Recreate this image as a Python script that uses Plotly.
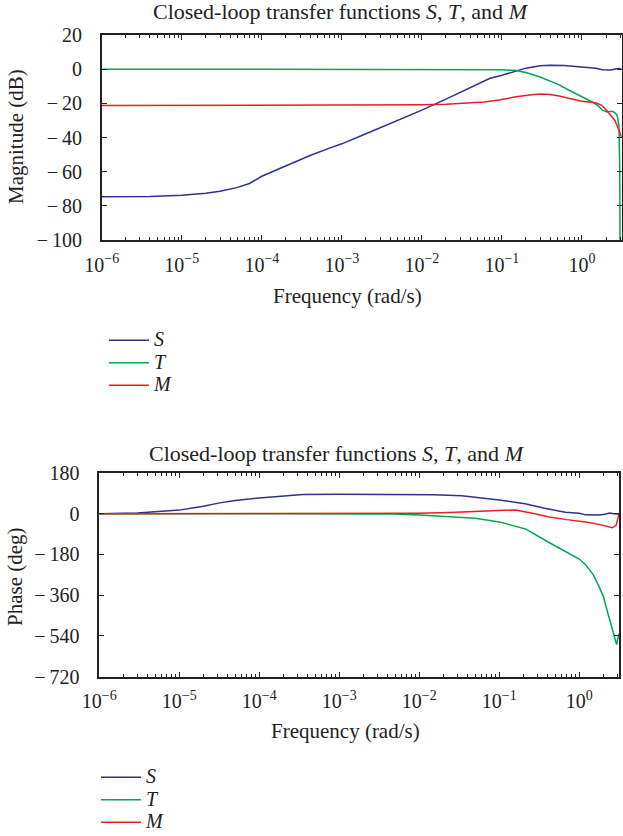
import math
import plotly.graph_objects as go

# ---- magnitude data (dB) ----
f_S_mag = [1e-6, 2e-6, 4e-6, 7e-6, 1e-5, 2e-5, 3e-5, 5e-5, 7e-5, 1e-4, 2e-4, 4e-4, 7e-4,
           1e-3, 2e-3, 5e-3, 1e-2, 2e-2, 3.5e-2, 5e-2, 0.07, 0.1, 0.15, 0.2, 0.3, 0.4, 0.6,
           1.0, 1.5, 1.8, 2.3, 2.7, 2.95, 3.14]
S_mag = [-74.7, -74.7, -74.6, -74.1, -73.8, -72.6, -71.4, -69.2, -66.9, -62.7, -56.5, -50.5, -46.2,
         -43.7, -37.8, -30.0, -24.0, -17.5, -12.0, -8.8, -5.5, -3.6, -1.0, 0.6, 2.0, 2.3, 2.2,
         1.3, 0.5, -0.4, -0.5, 0.3, 0.4, -0.2]

f_T_mag = [1e-6, 1e-3, 0.03, 0.07, 0.1, 0.15, 0.2, 0.3, 0.4, 0.52, 0.7, 1.0, 1.35, 1.6,
           1.8, 2.07, 2.39, 2.6, 2.75, 2.9, 2.97, 3.0, 3.14]
T_mag = [0, 0, 0, 0, -0.3, -0.8, -2.0, -4.6, -6.8, -9.2, -12.5, -16.1, -19.2, -21.5,
         -24.0, -25.0, -24.7, -25.5, -27.0, -33.0, -60.0, -110.0, -160.0]

f_M_mag = [1e-6, 1e-3, 5e-3, 1e-2, 2e-2, 3.5e-2, 6e-2, 9.2e-2, 0.15, 0.25, 0.32, 0.4, 0.52,
           0.7, 1.0, 1.48, 1.75, 2.03, 2.2, 2.39, 2.58, 2.93, 3.14]
M_mag = [-21.2, -21.1, -21.0, -20.9, -20.6, -20.0, -19.2, -18.0, -16.2, -14.9, -14.6, -14.8, -15.7,
         -17.2, -18.8, -19.7, -21.0, -24.0, -26.0, -28.0, -30.0, -36.0, -40.0]

# ---- phase data (deg) ----
f_S_ph = [1e-6, 3e-6, 1e-5, 2e-5, 3.2e-5, 5e-5, 1e-4, 2e-4, 3.5e-4, 1e-3, 5e-3, 1.5e-2,
          3.4e-2, 0.1, 0.21, 0.37, 0.67, 1.0, 1.2, 1.76, 2.1, 2.4, 2.7, 3.14]
S_ph = [0, 3, 16, 33, 48, 58, 70, 79, 85, 86, 86, 84,
        80, 61, 44, 24, 7, 2, -5, -6, -2, 3, 0, -1]

f_T_ph = [1e-6, 5e-3, 1e-2, 2.4e-2, 0.05, 0.1, 0.215, 0.42, 0.7, 1.0, 1.2, 1.5, 1.76,
          2.0, 2.24, 2.5, 2.75, 2.93, 3.14]
T_ph = [0, -1, -6, -12, -20, -36, -68, -127, -168, -200, -225, -270, -320,
        -365, -430, -490, -545, -578, -530]

f_M_ph = [1e-6, 5e-3, 1e-2, 2.4e-2, 0.05, 0.1, 0.16, 0.26, 0.42, 0.7, 1.0, 1.2, 1.76,
          2.24, 2.6, 2.9, 3.05, 3.14]
M_ph = [0, 0, 2, 5, 10, 17, 17, 2, -14, -26, -33, -36, -47,
        -58, -62, -50, -25, 0]

series_names = ["S", "T", "M"]
series_colors = ["#2E3192", "#00A651", "#ED1C24"]

title_text = "Closed-loop transfer functions <i>S</i>, <i>T</i>, and <i>M</i>"
xlabel = "Frequency (rad/s)"
mag_ticks = [20, 0, -20, -40, -60, -80, -100]
phase_ticks = [180, 0, -180, -360, -540, -720]
decades = [-6, -5, -4, -3, -2, -1, 0]

W, H = 623, 836
FONT = "Liberation Serif"
AX = "#222222"
TXT = "#222222"

fig = go.Figure()

mag_sets = [(f_S_mag, S_mag), (f_T_mag, T_mag), (f_M_mag, M_mag)]
ph_sets = [(f_S_ph, S_ph), (f_T_ph, T_ph), (f_M_ph, M_ph)]


def legend_label(n):
    # larger glyphs than the legend's own font so the rows stay tight
    return "<span style='font-size:20px'><i>%s</i></span>" % n


for (fx, fy), name, col in zip(mag_sets, series_names, series_colors):
    fig.add_trace(go.Scatter(x=fx, y=fy, mode="lines", name=legend_label(name),
                             line=dict(color=col, width=1.5),
                             xaxis="x", yaxis="y", legend="legend"))
for (fx, fy), name, col in zip(ph_sets, series_names, series_colors):
    fig.add_trace(go.Scatter(x=fx, y=fy, mode="lines", name=legend_label(name),
                             line=dict(color=col, width=1.5),
                             xaxis="x2", yaxis="y2", legend="legend2"))

xmax = math.log10(math.pi)
minor_vals = [m * 10 ** d for d in range(-6, 1) for m in range(2, 10) if m * 10 ** d <= math.pi]


def neg(v):
    return str(v).replace("-", "−\u2009")


def xaxis_cfg(domain, anchor):
    return dict(
        type="log", range=[-6, xmax], domain=domain, anchor=anchor, automargin=False,
        tickvals=[10 ** d for d in decades],
        ticktext=["10<sup>%s</sup>" % (str(d).replace("-", "−")) for d in decades],
        ticks="inside", ticklen=5, tickwidth=1, tickcolor=AX,
        minor=dict(tickvals=minor_vals, ticks="inside", ticklen=3, tickwidth=1, tickcolor=AX),
        showline=True, linecolor=AX, linewidth=1.5, mirror="ticks",
        showgrid=False, zeroline=False,
        tickfont=dict(family=FONT, size=20, color=TXT),
        ticklabelstandoff=6,
    )


def yaxis_cfg(domain, anchor, ticks, rng):
    return dict(
        range=rng, domain=domain, anchor=anchor, automargin=False,
        tickvals=ticks, ticktext=[neg(t) for t in ticks],
        ticks="inside", ticklen=5, tickwidth=1, tickcolor=AX,
        showline=True, linecolor=AX, linewidth=1.5, mirror="ticks",
        showgrid=False, zeroline=False,
        tickfont=dict(family=FONT, size=20, color=TXT),
        ticklabelstandoff=14,
    )


top_x = [101.8 / W, 621.7 / W]
bot_x = [99.3 / W, 619.0 / W]
top_y = [1 - 240 / H, 1 - 35 / H]
bot_y = [1 - 676.7 / H, 1 - 473 / H]

legend_common = dict(xanchor="left", yanchor="top",
                     font=dict(family=FONT, size=15, color=TXT),
                     bgcolor="rgba(0,0,0,0)", tracegroupgap=0, itemwidth=40)

fig.update_layout(
    width=W, height=H,
    margin=dict(l=0, r=0, t=0, b=0, autoexpand=False),
    paper_bgcolor="white", plot_bgcolor="white",
    font=dict(family=FONT, color=TXT),
    xaxis=xaxis_cfg(top_x, "y"),
    yaxis=yaxis_cfg(top_y, "x", mag_ticks, [-100, 20]),
    xaxis2=xaxis_cfg(bot_x, "y2"),
    yaxis2=yaxis_cfg(bot_y, "x2", phase_ticks, [-720, 180]),
    legend=dict(x=104 / W, y=1 - 324 / H, **legend_common),
    legend2=dict(x=96 / W, y=1 - 761 / H, **legend_common),
    showlegend=True,
)

annots = [
    dict(text=title_text, x=341 / W, y=1 - 11 / H, size=22),
    dict(text=title_text, x=337 / W, y=1 - 453 / H, size=22),
    dict(text=xlabel, x=347 / W, y=1 - 296 / H, size=21),
    dict(text=xlabel, x=345 / W, y=1 - 731 / H, size=21),
    dict(text="Magnitude (dB)", x=16 / W, y=1 - 137 / H, textangle=-90, size=21),
    dict(text="Phase (deg)", x=15 / W, y=1 - 577 / H, textangle=-90, size=21),
]
for a in annots:
    size = a.pop("size")
    fig.add_annotation(xref="paper", yref="paper", showarrow=False,
                       xanchor="center", yanchor="middle",
                       font=dict(family=FONT, size=size, color=TXT), **a)

fig.write_html("out.html")
